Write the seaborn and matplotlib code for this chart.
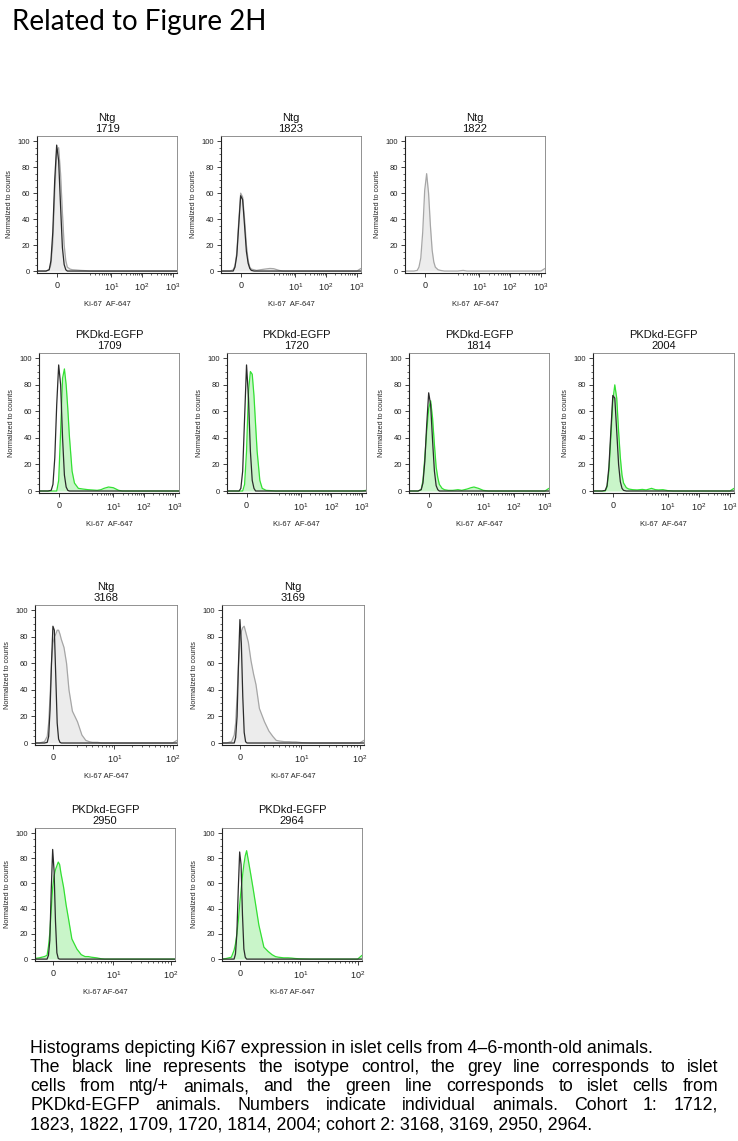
import matplotlib
matplotlib.use("Agg")
import matplotlib.pyplot as plt
from matplotlib.ticker import FixedLocator, MultipleLocator, NullFormatter
import seaborn as sns

# --- data: histogram curves (y = % of max, x = Ki-67 AF-647 intensity) ---
# cohort 1 x grid
X1 = [-0.7, -0.3, -0.2, -0.15, -0.1, -0.05, 0, 0.05, 0.1, 0.15, 0.2, 0.25, 0.3, 0.4, 0.5, 0.7,
      1, 1.5, 2, 3, 4, 5, 7, 10, 15, 20, 50, 100, 300, 1000, 1360]

ISO_1719 = [0, 0, 1, 8, 30, 70, 97, 85, 50, 18, 5, 1, 0, 0, 0, 0,
            0, 0, 0, 0, 0, 0, 0, 0, 0, 0, 0, 0, 0, 0, 0]
NTG_1719 = [0, 0, 1, 5, 22, 60, 92, 95, 75, 45, 20, 8, 3, 1.5, 1, 0.8,
            0.5, 0.3, 0, 0, 0, 0, 0, 0, 0, 0, 0, 0, 0, 0, 0]
ISO_1823 = [0, 0, 0, 3, 12, 35, 58, 55, 35, 15, 6, 2, 0.5, 0, 0, 0,
            0, 0, 0, 0, 0, 0, 0, 0, 0, 0, 0, 0, 0, 0, 0]
NTG_1823 = [0, 0, 1, 4, 14, 38, 60, 57, 40, 20, 8, 3, 1.5, 1, 0.5, 1,
            1.5, 2, 1.8, 0.5, 0, 0, 0, 0, 0, 0, 0, 0, 0, 0, 2]
NTG_1822 = [0, 0, 0.5, 3, 10, 30, 62, 75, 60, 35, 16, 7, 3, 1, 0.5, 0,
            0, 0, 0, 0.5, 0, 0, 0, 0, 0, 0, 0, 0, 0, 0, 2]
ISO_1709 = [0, 0, 0.5, 5, 25, 65, 95, 80, 40, 12, 3, 0.5, 0, 0, 0, 0,
            0, 0, 0, 0, 0, 0, 0, 0, 0, 0, 0, 0, 0, 0, 0]
PKD_1709 = [0, 0, 0, 0, 0, 0, 8, 45, 85, 92, 80, 62, 42, 15, 6, 2,
            1.5, 1, 0.8, 0.5, 1, 2, 3, 2.5, 0.5, 0, 0, 0, 0, 0, 0]
ISO_1720 = [0, 0, 0, 2, 15, 55, 95, 70, 30, 8, 2, 0, 0, 0, 0, 0,
            0, 0, 0, 0, 0, 0, 0, 0, 0, 0, 0, 0, 0, 0, 0]
PKD_1720 = [0, 0, 0, 0, 0, 5, 30, 75, 90, 88, 72, 50, 30, 8, 2, 0.5,
            0.3, 0, 0, 0, 0, 0, 0, 0, 0, 0, 0, 0, 0, 0, 0.5]
ISO_1814 = [0, 0, 1, 6, 22, 50, 74, 65, 38, 15, 4, 1, 0, 0, 0, 0,
            0, 0, 0, 0, 0, 0, 0, 0, 0, 0, 0, 0, 0, 0, 0]
PKD_1814 = [0, 0, 1, 8, 25, 45, 62, 68, 55, 35, 18, 10, 5, 2, 1, 0.5,
            0.5, 1, 0.5, 1.5, 2.5, 3, 2, 0.5, 0, 0, 0, 0, 0, 0, 2]
ISO_2004 = [0, 0, 0.5, 4, 18, 45, 72, 70, 45, 20, 7, 2, 0.5, 0, 0, 0,
            0, 0, 0, 0, 0, 0, 0, 0, 0, 0, 0, 0, 0, 0, 0]
PKD_2004 = [0, 0, 0, 3, 15, 40, 68, 80, 70, 45, 25, 12, 6, 2.5, 1.5, 1,
            0.8, 1.2, 0.8, 2, 1, 0.8, 1, 0.3, 0, 0, 0, 0, 0, 0, 2]

# cohort 2 x grid
X2 = [-1.36, -1, -0.6, -0.4, -0.3, -0.2, -0.1, 0, 0.1, 0.2, 0.3, 0.4, 0.5, 0.6, 0.8, 1, 1.2,
      1.5, 2, 2.5, 3, 3.5, 4, 5, 6, 7, 8, 10, 15, 20, 30, 50, 100, 119]

ISO_3168 = [0, 0, 0, 0.5, 5, 25, 60, 88, 85, 50, 15, 3, 0.5, 0, 0, 0, 0,
            0, 0, 0, 0, 0, 0, 0, 0, 0, 0, 0, 0, 0, 0, 0, 0, 0]
NTG_3168 = [0, 0, 1, 5, 15, 35, 60, 75, 80, 82, 85, 85, 82, 78, 72, 60, 40,
            24, 16, 6, 2, 1, 0.5, 0.5, 0, 0, 0, 0, 0, 0, 0, 0, 0, 2]
ISO_3169 = [0, 0, 0, 0, 4, 20, 60, 93, 75, 35, 8, 1, 0, 0, 0, 0, 0,
            0, 0, 0, 0, 0, 0, 0, 0, 0, 0, 0, 0, 0, 0, 0, 0, 0]
NTG_3169 = [0, 0, 1, 6, 15, 35, 58, 75, 84, 87, 88, 84, 80, 76, 62, 52, 44,
            26, 16, 9, 5, 2, 1.5, 1, 1, 0.8, 0.8, 0.3, 0, 0, 0, 0, 0, 2]
ISO_2950 = [0, 0, 0, 0, 3, 15, 55, 87, 70, 30, 5, 0.5, 0, 0, 0, 0, 0,
            0, 0, 0, 0, 0, 0, 0, 0, 0, 0, 0, 0, 0, 0, 0, 0, 0]
PKD_2950 = [0.5, 1, 2, 3, 10, 21, 40, 57, 66, 71, 74, 77, 75, 68, 57, 43, 32,
            16, 8, 3.5, 2, 2, 1.5, 1, 0.3, 0, 0, 0, 0, 0, 0, 0, 0, 0]
ISO_2964 = [0, 0, 0, 0, 4, 20, 55, 85, 75, 35, 8, 1.5, 0, 0, 0, 0, 0,
            0, 0, 0, 0, 0, 0, 0, 0, 0, 0, 0, 0, 0, 0, 0, 0, 0]
PKD_2964 = [0, 0.5, 1.5, 7, 12, 20, 30, 43, 55, 66, 75, 82, 86, 80, 68, 56, 44,
            27, 9.5, 6, 3.5, 2, 1.5, 1, 1, 0.8, 0.5, 0.2, 0, 0, 0, 0, 0, 3]

# panel: (group, animal, cohort, isotype curve, sample curve)
PANELS = [
    ("Ntg", "1719", 1, ISO_1719, NTG_1719),
    ("Ntg", "1823", 1, ISO_1823, NTG_1823),
    ("Ntg", "1822", 1, None, NTG_1822),
    ("PKDkd-EGFP", "1709", 1, ISO_1709, PKD_1709),
    ("PKDkd-EGFP", "1720", 1, ISO_1720, PKD_1720),
    ("PKDkd-EGFP", "1814", 1, ISO_1814, PKD_1814),
    ("PKDkd-EGFP", "2004", 1, ISO_2004, PKD_2004),
    ("Ntg", "3168", 2, ISO_3168, NTG_3168),
    ("Ntg", "3169", 2, ISO_3169, NTG_3169),
    ("PKDkd-EGFP", "2950", 2, ISO_2950, PKD_2950),
    ("PKDkd-EGFP", "2964", 2, ISO_2964, PKD_2964),
]

CAPTION = [
    "Histograms depicting Ki67 expression in islet cells from 4\u20136-month-old animals.",
    "The black line represents the isotype control, the grey line corresponds to islet",
    "cells from ntg/+ animals, and the green line corresponds to islet cells from",
    "PKDkd-EGFP animals. Numbers indicate individual animals. Cohort 1: 1712,",
    "1823, 1822, 1709, 1720, 1814, 2004; cohort 2: 3168, 3169, 2950, 2964.",
]

# --- layout (pixel boxes: left, top, right, bottom) ---
BOXES = {
    "1719": (37, 136, 177, 273), "1823": (221, 136, 361, 273), "1822": (405, 136, 545, 273),
    "1709": (39, 353, 179, 493), "1720": (227, 353, 366, 493),
    "1814": (409, 353, 549, 493), "2004": (593, 353, 734, 493),
    "3168": (35, 605, 177, 745), "3169": (222, 605, 364, 745),
    "2950": (35, 828, 175, 961), "2964": (222, 828, 362, 961),
}

# biexponential-like x axis, approximated by matplotlib's asinh scale
AXIS = {
    1: dict(x=X1, lw=0.34, lim=(-0.7, 1360), ticks=[0, 10, 100, 1000],
            labels=["0", "$10^1$", "$10^2$", "$10^3$"], xlabel="Ki-67  AF-647"),
    2: dict(x=X2, lw=1.77, lim=(-1.36, 119), ticks=[0, 10, 100],
            labels=["0", "$10^1$", "$10^2$"], xlabel="Ki-67 AF-647"),
}

COL_ISO = "#2b2b2b"
COL_NTG, FILL_NTG = "#a6a6a6", "#ececec"
COL_PKD, FILL_PKD = "#33e033", "#c9f5c9"

sns.set_style("ticks")
plt.rcParams["font.family"] = ["Liberation Sans", "DejaVu Sans"]
plt.rcParams["mathtext.fontset"] = "custom"
plt.rcParams["mathtext.rm"] = "Liberation Sans"
plt.rcParams["text.color"] = "#111111"

W, H = 738, 1141
fig = plt.figure(figsize=(W / 100, H / 100), dpi=100)


def add_px_axes(box):
    l, t, r, b = box
    return fig.add_axes([l / W, 1 - b / H, (r - l) / W, (b - t) / H])


for group, animal, cohort, iso, sample, in PANELS:
    cfg = AXIS[cohort]
    ax = add_px_axes(BOXES[animal])
    ax.set_xscale("asinh", linear_width=cfg["lw"])
    x = cfg["x"]
    if group == "Ntg":
        line_c, fill_c = COL_NTG, FILL_NTG
    else:
        line_c, fill_c = COL_PKD, FILL_PKD
    ax.fill_between(x, sample, 0, color=fill_c, lw=0, zorder=1)
    sns.lineplot(x=x, y=sample, ax=ax, color=line_c, linewidth=0.9, zorder=2)
    if iso is not None:
        sns.lineplot(x=x, y=iso, ax=ax, color=COL_ISO, linewidth=0.9, zorder=3)

    ax.set_xlim(*cfg["lim"])
    ax.set_ylim(-1.5, 104)
    ax.xaxis.set_major_locator(FixedLocator(cfg["ticks"]))
    ax.set_xticklabels(cfg["labels"])
    minors = [m * 10 ** k for k in range(3) for m in range(2, 10)
              if m * 10 ** k < cfg["lim"][1]]
    ax.xaxis.set_minor_locator(FixedLocator(minors))
    ax.xaxis.set_minor_formatter(NullFormatter())
    ax.yaxis.set_major_locator(MultipleLocator(20))
    ax.yaxis.set_minor_locator(MultipleLocator(5))
    ax.tick_params(which="major", length=3, width=0.6, labelsize=5.5, pad=2,
                   direction="out", colors="#222222")
    ax.tick_params(which="minor", length=1.6, width=0.5, direction="out", colors="#222222")
    ax.tick_params(axis="x", which="major", pad=3, labelsize=6.5)
    for side in ["left", "bottom"]:
        ax.spines[side].set_linewidth(0.8)
        ax.spines[side].set_color("#222222")
    for side in ["top", "right"]:
        ax.spines[side].set_linewidth(0.6)
        ax.spines[side].set_color("#808080")

    ax.set_title(f"{group}\n{animal}", fontsize=8, pad=3, linespacing=1.05)
    ax.set_ylabel("Normalized to counts", fontsize=5.2, labelpad=3)
    ax.set_xlabel(cfg["xlabel"], fontsize=5.5, labelpad=6)

# header
fig.text(12 / W, 1 - 30 / H, "Related to Figure 2H", fontsize=20,
         family=["Lato", "DejaVu Sans"], va="baseline", ha="left", color="black")

# caption, lines 2-4 justified like the original
renderer = fig.canvas.get_renderer()
CAP_X0, CAP_X1, CAP_SIZE = 30, 718, 12.8
for i, line in enumerate(CAPTION):
    y = 1 - (1053 + 19 * i) / H
    if i in (0, len(CAPTION) - 1):
        fig.text(CAP_X0 / W, y, line, fontsize=CAP_SIZE, va="baseline", ha="left", color="black")
        continue
    words = line.split(" ")
    texts = [fig.text(0, y, w, fontsize=CAP_SIZE, va="baseline", ha="left", color="black")
             for w in words]
    widths = [t.get_window_extent(renderer).width for t in texts]
    gap = (CAP_X1 - CAP_X0 - sum(widths)) / (len(words) - 1)
    xpos = CAP_X0
    for t, wd in zip(texts, widths):
        t.set_x(xpos / W)
        xpos += wd + gap

fig.savefig("out.png", dpi=100)
